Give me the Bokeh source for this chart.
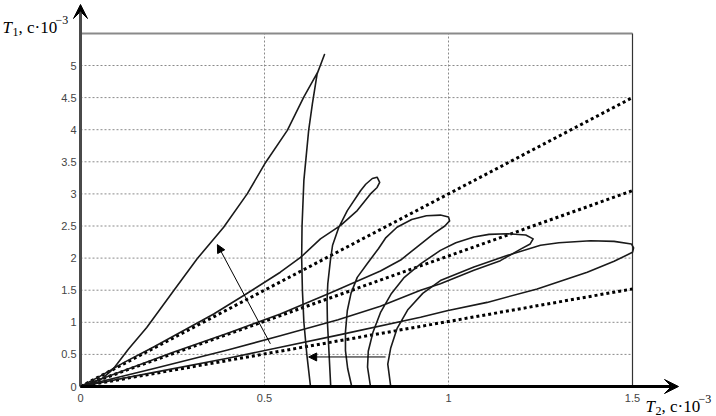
from bokeh.plotting import figure
from bokeh.models import Range1d, Arrow, VeeHead, NormalHead, Label
from bokeh.core.properties import value
from bokeh.embed import file_html
from bokeh.resources import INLINE

# ---------------- data ----------------
x_ticks = [0, 0.5, 1, 1.5]
x_tick_labels = ["0", "0.5", "1", "1.5"]
y_ticks = [0, 0.5, 1, 1.5, 2, 2.5, 3, 3.5, 4, 4.5, 5]
y_tick_labels = ["0", "0.5", "1", "1.5", "2", "2.5", "3", "3.5", "4", "4.5", "5"]
x_box = 1.5
y_box = 5.5

# dotted rays from the origin to x = 1.5
ray_end_x = [1.5, 1.5, 1.5]
ray_end_y = [4.5, 3.05, 1.52]

# solid curves (origin -> loop tip -> back down to the T2 axis)
c1_x = [0, 0.03, 0.06, 0.09, 0.13, 0.18, 0.254, 0.317, 0.389, 0.453, 0.503, 0.562, 0.607, 0.645, 0.663,
        0.655, 0.643, 0.63, 0.62, 0.607, 0.602, 0.601, 0.603, 0.607, 0.615, 0.625]
c1_y = [0, 0.05, 0.13, 0.28, 0.58, 0.92, 1.5, 1.99, 2.48, 3.0, 3.49, 3.99, 4.51, 4.9, 5.17,
        5.05, 4.87, 4.4, 3.99, 3.21, 2.5, 2.0, 1.5, 1.0, 0.5, 0]

c2_x = [0, 0.05, 0.12, 0.2, 0.362, 0.45, 0.543, 0.598, 0.652, 0.707, 0.752, 0.788, 0.806, 0.813,
        0.806, 0.793, 0.775, 0.761, 0.725, 0.702, 0.685, 0.679, 0.672, 0.67, 0.671, 0.675, 0.68]
c2_y = [0, 0.15, 0.38, 0.62, 1.13, 1.44, 1.78, 2.01, 2.3, 2.51, 2.74, 3.0, 3.1, 3.18,
        3.26, 3.24, 3.15, 3.05, 2.74, 2.48, 2.2, 1.96, 1.6, 1.34, 1.0, 0.56, 0]

c3_x = [0, 0.1, 0.25, 0.4, 0.543, 0.68, 0.815, 0.87, 0.92, 0.96, 0.99, 1.003,
        1.0, 0.978, 0.94, 0.9, 0.86, 0.83, 0.81, 0.78, 0.752, 0.735, 0.725, 0.72, 0.72, 0.726, 0.737]
c3_y = [0, 0.21, 0.53, 0.83, 1.13, 1.46, 1.8, 1.97, 2.2, 2.38, 2.5, 2.58,
        2.64, 2.67, 2.66, 2.6, 2.48, 2.32, 2.15, 1.92, 1.7, 1.45, 1.18, 0.85, 0.56, 0.28, 0]

c4_x = [0, 0.2, 0.4, 0.543, 0.7, 0.815, 0.924, 0.978, 1.069, 1.141, 1.196, 1.222,
        1.23, 1.21, 1.159, 1.11, 1.069, 1.02, 0.978, 0.924, 0.88, 0.845, 0.815, 0.795, 0.782, 0.78, 0.788]
c4_y = [0, 0.28, 0.57, 0.79, 1.04, 1.25, 1.5, 1.6, 1.81, 1.96, 2.14, 2.22,
        2.3, 2.36, 2.38, 2.37, 2.33, 2.24, 2.12, 1.91, 1.7, 1.45, 1.15, 0.85, 0.55, 0.3, 0]

c5_x = [0, 0.2, 0.4, 0.543, 0.7, 0.924, 0.996, 1.105, 1.241, 1.377, 1.45, 1.5,
        1.503, 1.497, 1.45, 1.386, 1.3, 1.25, 1.159, 1.069, 0.978, 0.93, 0.89, 0.86, 0.843, 0.835, 0.843]
c5_y = [0, 0.22, 0.44, 0.61, 0.8, 1.08, 1.18, 1.31, 1.52, 1.78, 1.95, 2.09,
        2.16, 2.22, 2.26, 2.27, 2.24, 2.2, 2.04, 1.86, 1.65, 1.45, 1.2, 0.9, 0.6, 0.35, 0]

# thin arrows (start -> end)
arrow1 = (0.516, 0.665, 0.372, 2.21)
arrow2 = (0.829, 0.46, 0.62, 0.46)

# axis extents (arrow tips)
x_axis_end = 1.625
y_axis_end = 5.95

# ---------------- figure ----------------
W, H = 716, 416
X0, Y0 = 80, 386          # pixel position of the origin
SX, SY = 368.0, 64.2      # px per unit

p = figure(width=W, height=H, output_backend="svg", toolbar_location=None,
           x_axis_type=None, y_axis_type=None,
           x_range=Range1d(-X0 / SX, (W - X0) / SX),
           y_range=Range1d(-(H - Y0) / SY, Y0 / SY),
           min_border_left=0, min_border_right=0, min_border_top=0, min_border_bottom=0,
           background_fill_color="white", border_fill_color="white")
p.outline_line_color = None
p.grid.visible = False

# grid (dashed) inside the box
gx = [t for t in x_ticks if 0 < t < x_box]
gy = [t for t in y_ticks if 0 < t]
p.segment(x0=gx, y0=[0] * len(gx), x1=gx, y1=[y_box] * len(gx),
          line_color="#8a8a8a", line_width=1, line_dash="2 2")
p.segment(x0=[0] * len(gy), y0=gy, x1=[x_box] * len(gy), y1=gy,
          line_color="#8a8a8a", line_width=1, line_dash="2 2")

# box
p.line([0, x_box], [y_box, y_box], line_color="#8a8a8a", line_width=2)
p.line([x_box, x_box], [0, y_box], line_color="#333333", line_width=1.2)

# dotted rays
p.segment(x0=[0] * len(ray_end_x), y0=[0] * len(ray_end_x), x1=ray_end_x, y1=ray_end_y,
          line_color="black", line_width=3, line_dash="3 3")

# solid curves
p.multi_line(xs=[c1_x, c2_x, c3_x, c4_x, c5_x], ys=[c1_y, c2_y, c3_y, c4_y, c5_y],
             line_color="#1a1a1a", line_width=1.6, line_join="round")

# thin arrows
for a in (arrow1, arrow2):
    p.add_layout(Arrow(x_start=a[0], y_start=a[1], x_end=a[2], y_end=a[3],
                       line_color="black", line_width=1,
                       end=NormalHead(size=8, fill_color="black", line_color="black")))

# axes lines with arrowheads
p.add_layout(Arrow(x_start=0, y_start=0, x_end=0, y_end=y_axis_end,
                   line_color="#4a4a4a", line_width=3,
                   end=VeeHead(size=14, fill_color="black", line_color="black", line_width=1)))
p.add_layout(Arrow(x_start=0, y_start=0, x_end=x_axis_end, y_end=0,
                   line_color="black", line_width=3,
                   end=VeeHead(size=14, fill_color="black", line_color="black", line_width=1)))

# tick labels, placed through the data scales
p.text(x=[0] * len(y_ticks), y=y_ticks, text=y_tick_labels,
       x_offset=-4, text_align="right", text_baseline="middle",
       text_font_size="11px", text_color="#444444", text_font=value("Liberation Sans"))
p.text(x=x_ticks, y=[0] * len(x_ticks), text=x_tick_labels,
       y_offset=11, text_align="center", text_baseline="middle",
       text_font_size="11px", text_color="#444444", text_font=value("Liberation Sans"))

# axis titles (screen units: x from the left edge, y from the bottom edge)
serif = "Liberation Serif"
def title(x, y, parts):
    for text, dx, dy, size, style in parts:
        p.add_layout(Label(x=x + dx, y=y + dy, x_units="screen", y_units="screen", text=text,
                           text_font=serif, text_font_size=size, text_font_style=style,
                           text_color="black", text_baseline="alphabetic", text_align="left"))

y_title = [("T", 0, 0, "17px", "italic"), ("1", 10, -4, "12px", "normal"),
           (", c·10", 16, 0, "17px", "normal"), ("−3", 53, 8, "12px", "normal")]
x_title = [("T", 0, 0, "17px", "italic"), ("2", 10, -4, "12px", "normal"),
           (", c·10", 16, 0, "17px", "normal"), ("−3", 53, 8, "12px", "normal")]
title(2, H - 27, y_title)
title(645, H - 406, x_title)

open("out.html", "w").write(file_html(p, INLINE))
